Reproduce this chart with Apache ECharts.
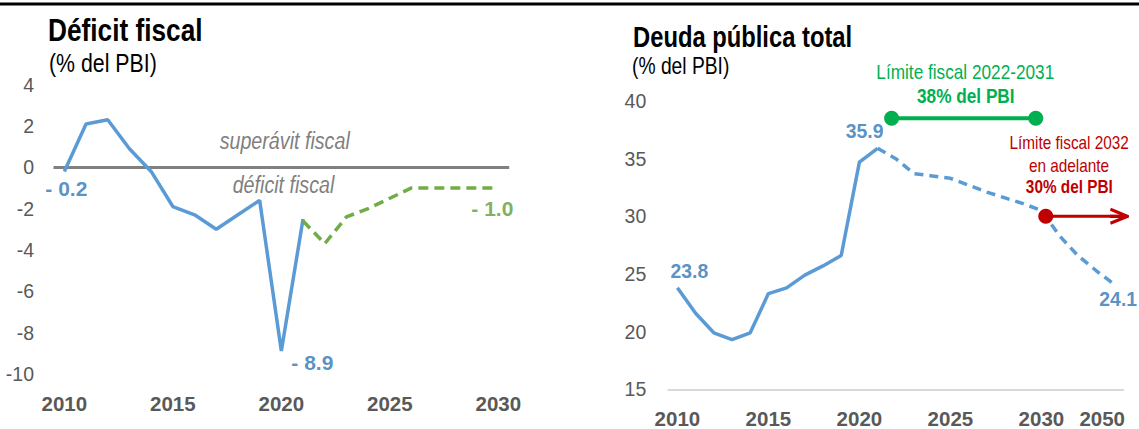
<!DOCTYPE html>
<html><head><meta charset="utf-8">
<script src="https://cdn.jsdelivr.net/npm/echarts@6/dist/echarts.min.js"></script>
<style>html,body{margin:0;padding:0;background:#fff}#c{width:1139px;height:429px}</style>
</head><body><div id="c"></div>
<script>
// ---------- data ----------
const deficitYears = ['2010','2011','2012','2013','2014','2015','2016','2017','2018','2019','2020',
  '2021','2022','2023','2024','2025','2026','2027','2028','2029','2030'];
const deficitActual = [-0.2, 2.1, 2.3, 0.9, -0.2, -1.9, -2.3, -3.0, -2.3, -1.6, -8.9, -2.5];      // 2010-2021
const deficitProjected = [-2.6, -3.7, -2.4, -2.0, -1.5, -1.0, -1.0, -1.0, -1.0, -1.0];           // 2021-2030
const deficitTicks = ['2010','2015','2020','2025','2030'];
const deficitYTicks = [-10, 4, 2];   // min, max, interval

const debtYears = ['2010','2011','2012','2013','2014','2015','2016','2017','2018','2019','2020',
  '2021','2022','2023','2024','2025','2026','2027','2028','2029','2030','2035','2040','2045','2050'];
const debtActual = [23.8, 21.6, 19.9, 19.3, 19.9, 23.3, 23.8, 24.9, 25.7, 26.6, 34.7, 35.9];     // 2010-2021
const debtProjected = [35.9, 35.0, 33.7, 33.5, 33.3, 32.7, 32.1, 31.6, 31.1, 30.5, 28.3, 26.6, 25.3, 24.1]; // 2021-2050
const debtTicks = ['2010','2015','2020','2025','2030','2050'];
const debtYTicks = [15, 40, 5];

// fiscal limits (x in category-index units of the debt axis)
const limit2022 = { value: 38.5, from: 11.77, to: 19.69 };
const limit2032 = { value: 30.0, from: 20.24, to: 24.29 };

// ---------- styles ----------
const SANS = '"Liberation Sans",Arial,sans-serif';
const NARROW_SCALE = 0.82;
const BLUE = '#5B9BD5', BLUE_T = '#2E75B6', GREEN = '#70AD47', GREEN_T = '#5E9B36';
const LIM_G = '#00B050', LIM_R = '#C00000', GRAY = '#595959';

function fmt(v) { return v < 0 ? '- ' + Math.abs(v).toFixed(1) : v.toFixed(1); }

const chevron = 'path://M1,0 L20,7 L20,9 L1,16 L0,13.2 L14,8 L0,2.8 Z M0,6.5 L18,6.5 L18,9.5 L0,9.5 Z';

const chart = echarts.init(document.getElementById('c'), null, { renderer: 'svg' });

function labelPoint(year, value, dx, dy, color, size) {
  return { value: [year, value], label: { offset: [dx, dy], color: color, fontSize: size } };
}
// narrow text: Arial glyphs compressed horizontally (Arial Narrow look-alike)
function txt(x, y, text, font, fill, align) {
  return { type: 'text', x: x, y: y, scaleX: NARROW_SCALE, scaleY: 1, silent: true,
    style: { text: text, font: font, fill: fill, align: align || 'left', verticalAlign: 'middle' } };
}

const labelSeriesBase = {
  type: 'scatter', symbolSize: 1, itemStyle: { color: 'rgba(0,0,0,0)' }, silent: true, z: 10,
  label: { show: true, position: 'inside', fontFamily: SANS, fontWeight: 'bold',
    formatter: p => fmt(p.value[1]) }
};

const option = {
  animation: false,
  backgroundColor: '#ffffff',
  grid: [
    { left: 53.5, top: 84.7, width: 455.7, height: 289.1, containLabel: false, outerBoundsMode: 'none' },
    { left: 668.3, top: 101, width: 455, height: 288.3, containLabel: false, outerBoundsMode: 'none' }
  ],
  xAxis: [
    { type: 'category', gridIndex: 0, data: deficitYears, boundaryGap: true,
      axisLine: { show: false }, axisTick: { show: false }, splitLine: { show: false },
      axisLabel: { interval: (i, v) => deficitTicks.includes(v), margin: 20, lineHeight: 20,
        fontFamily: SANS, fontWeight: 'bold', fontSize: 20.5, color: GRAY } },
    { type: 'category', gridIndex: 1, data: debtYears, boundaryGap: true,
      axisLine: { show: true, lineStyle: { color: '#D9D9D9', width: 2 } },
      axisTick: { show: false }, splitLine: { show: false },
      axisLabel: { interval: (i, v) => debtTicks.includes(v), margin: 19, lineHeight: 20,
        fontFamily: SANS, fontWeight: 'bold', fontSize: 20.5, color: GRAY,
        formatter: (v, i) => i === debtYears.length - 1 ? '{shift|' + v + '}' : v,
        rich: { shift: { padding: [0, 24, 0, 0], fontFamily: SANS, fontWeight: 'bold', fontSize: 20.5, lineHeight: 20, color: GRAY } } } },
    { type: 'value', gridIndex: 1, min: -0.5, max: debtYears.length - 0.5, show: false, position: 'top' }
  ],
  yAxis: [
    { type: 'value', gridIndex: 0, min: deficitYTicks[0], max: deficitYTicks[1], interval: deficitYTicks[2],
      axisLine: { show: false }, axisTick: { show: false }, splitLine: { show: false },
      axisLabel: { margin: 19.5, fontFamily: SANS, fontSize: 19.5, color: GRAY } },
    { type: 'value', gridIndex: 1, min: debtYTicks[0], max: debtYTicks[1], interval: debtYTicks[2],
      axisLine: { show: false }, axisTick: { show: false }, splitLine: { show: false },
      axisLabel: { margin: 22, fontFamily: SANS, fontSize: 19.5, color: GRAY } }
  ],
  series: [
    { name: 'deficitActual', type: 'line', xAxisIndex: 0, yAxisIndex: 0, z: 3,
      data: deficitActual.map((v, i) => [deficitYears[i], v]),
      symbol: 'none', lineStyle: { color: BLUE, width: 3.5 },
      markLine: { silent: true, z: 1, symbol: ['none', 'none'], label: { show: false },
        lineStyle: { color: '#808080', width: 3, type: 'solid' }, data: [{ yAxis: 0 }] } },
    { name: 'deficitProjected', type: 'line', xAxisIndex: 0, yAxisIndex: 0, z: 3,
      data: deficitProjected.map((v, i) => [deficitYears[i + deficitActual.length - 1], v]),
      symbol: 'none', lineStyle: { color: GREEN, width: 3.5, type: [10, 6] } },
    Object.assign({}, labelSeriesBase, { xAxisIndex: 0, yAxisIndex: 0, data: [
      labelPoint('2010', deficitActual[0], 2, 17, BLUE_T, 21),
      labelPoint('2020', deficitActual[10], 31, 11, BLUE_T, 21),
      labelPoint('2030', deficitProjected[deficitProjected.length - 1], -6, 21, GREEN_T, 21)
    ] }),
    { name: 'debtActual', type: 'line', xAxisIndex: 1, yAxisIndex: 1, z: 3,
      data: debtActual.map((v, i) => [debtYears[i], v]),
      symbol: 'none', lineStyle: { color: BLUE, width: 3.5 } },
    { name: 'debtProjected', type: 'line', xAxisIndex: 1, yAxisIndex: 1, z: 3,
      data: debtProjected.map((v, i) => [debtYears[i + debtActual.length - 1], v]),
      symbol: 'none', lineStyle: { color: BLUE, width: 3.5, type: [9, 6] } },
    Object.assign({}, labelSeriesBase, { xAxisIndex: 1, yAxisIndex: 1, data: [
      labelPoint('2010', debtActual[0], 12, -17, BLUE_T, 19.4),
      labelPoint('2021', debtActual[11], -13, -17, BLUE_T, 19.4),
      labelPoint('2050', debtProjected[debtProjected.length - 1], 4, 15, BLUE_T, 19.4)
    ] }),
    { name: 'limit2022', type: 'line', xAxisIndex: 2, yAxisIndex: 1, z: 6, silent: true,
      data: [[limit2022.from, limit2022.value], [limit2022.to, limit2022.value]],
      symbol: 'circle', symbolSize: 15, showSymbol: true,
      itemStyle: { color: LIM_G }, lineStyle: { color: LIM_G, width: 4 } },
    { name: 'limit2032', type: 'line', xAxisIndex: 2, yAxisIndex: 1, z: 6, silent: true, clip: false,
      data: [
        { value: [limit2032.from, limit2032.value], symbol: 'circle', symbolSize: 15 },
        { value: [limit2032.to, limit2032.value], symbol: chevron, symbolSize: [19, 17] }
      ],
      showSymbol: true, itemStyle: { color: LIM_R }, lineStyle: { color: LIM_R, width: 3 } }
  ],
  graphic: [
    { type: 'rect', silent: true, shape: { x: 0, y: 2.5, width: 1139, height: 3 }, style: { fill: '#000' } },
    txt(48, 30, 'Déficit fiscal', 'bold 32px ' + SANS, '#000'),
    txt(49, 63, '(% del PBI)', '26px ' + SANS, '#000'),
    txt(633, 37, 'Deuda pública total', 'bold 29px ' + SANS, '#000'),
    txt(632, 66, '(% del PBI)', '23.5px ' + SANS, '#000'),
    txt(284.7, 141, 'superávit fiscal', 'italic 24px ' + SANS, '#7F7F7F', 'center'),
    txt(283.5, 185, 'déficit fiscal', 'italic 24px ' + SANS, '#7F7F7F', 'center'),
    txt(965.3, 72, 'Límite fiscal 2022-2031', '21px ' + SANS, LIM_G, 'center'),
    txt(965.8, 95.5, '38% del PBI', 'bold 21px ' + SANS, LIM_G, 'center'),
    txt(1069.2, 143.3, 'Límite fiscal 2032', '18.7px ' + SANS, LIM_R, 'center'),
    txt(1069, 165.5, 'en adelante', '18.7px ' + SANS, LIM_R, 'center'),
    txt(1069.3, 186.7, '30% del PBI', 'bold 18.7px ' + SANS, LIM_R, 'center')
  ]
};
chart.setOption(option);
</script></body></html>
